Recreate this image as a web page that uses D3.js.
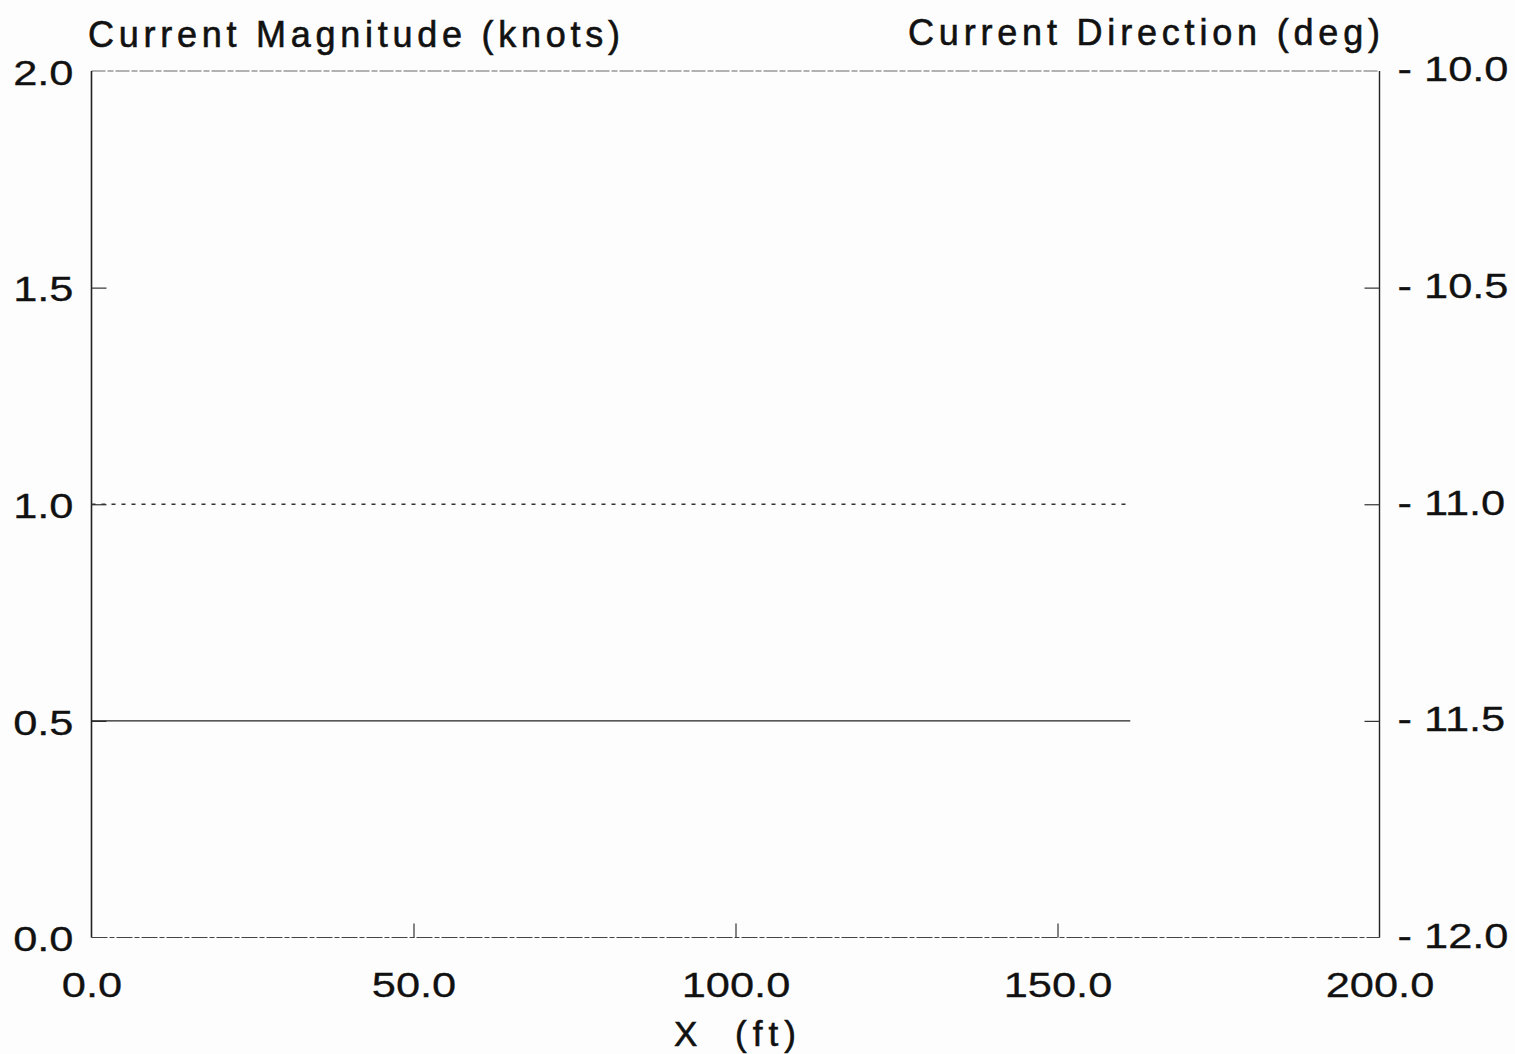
<!DOCTYPE html>
<html>
<head>
<meta charset="utf-8">
<script src="https://cdn.jsdelivr.net/npm/d3@7"></script>
<style>
  html, body { margin: 0; padding: 0; background: #fdfdfd; }
  svg { display: block; }
  text { font-family: "Liberation Sans", Arial, Helvetica, sans-serif; fill: #111; }
</style>
</head>
<body>
<svg id="chart" width="1515" height="1054"></svg>
<script>
// Along-track position (ft) of the current samples
const xValues = [0, 161.3];
// Current magnitude (knots), left axis, solid line
const magnitudeKnots = [0.5, 0.5];
// Current direction (deg), right axis, dotted line
const directionDeg = [-11.0, -11.0];

const xTicks = [0, 50, 100, 150, 200];
const magTicks = [0, 0.5, 1.0, 1.5, 2.0];
const dirTicks = [-12.0, -11.5, -11.0, -10.5, -10.0];

const svg = d3.select("#chart");
const plot = { left: 91.5, right: 1379.5, top: 71, bottom: 937.5 };

const x = d3.scaleLinear().domain([0, 200]).range([plot.left, plot.right]);
const yMag = d3.scaleLinear().domain([0, 2]).range([plot.bottom, plot.top]);
const yDir = d3.scaleLinear().domain([-12, -10]).range([plot.bottom, plot.top]);

const tickFont = 35;
const widen = 1.24;      // horizontal stretch of the plotter lettering

// frame
svg.append("line").attr("x1", plot.left).attr("x2", plot.right).attr("y1", plot.top).attr("y2", plot.top)
  .attr("stroke", "#666").attr("stroke-width", 1).attr("stroke-dasharray", "14 2 6 2");
svg.append("line").attr("x1", plot.left).attr("x2", plot.right).attr("y1", plot.bottom).attr("y2", plot.bottom)
  .attr("stroke", "#444").attr("stroke-width", 1.2).attr("stroke-dasharray", "16 2 5 2");
svg.append("line").attr("x1", plot.left).attr("x2", plot.left).attr("y1", plot.top).attr("y2", plot.bottom)
  .attr("stroke", "#222").attr("stroke-width", 1.6);
svg.append("line").attr("x1", plot.right).attr("x2", plot.right).attr("y1", plot.top).attr("y2", plot.bottom)
  .attr("stroke", "#222").attr("stroke-width", 1.4);

function styleAxis(g) {
  g.select(".domain").remove();
  g.selectAll(".tick line").attr("stroke", "#333").attr("stroke-width", 1.2);
  g.selectAll(".tick text")
    .attr("fill", "#111")
    .attr("stroke", "#111").attr("stroke-width", 0.3)
    .style("font-size", tickFont + "px")
    .each(function () {
      const len = this.getComputedTextLength();
      d3.select(this).attr("textLength", len * widen).attr("lengthAdjust", "spacingAndGlyphs");
    });
}

// bottom axis, ticks pointing into the plot
const xAxis = svg.append("g")
  .attr("transform", `translate(0,${plot.bottom})`)
  .call(d3.axisBottom(x).tickValues(xTicks).tickSizeInner(-14).tickSizeOuter(0).tickPadding(35)
    .tickFormat(d => d.toFixed(1)))
  .call(styleAxis);
xAxis.selectAll(".tick line").filter(d => d === 0 || d === 200).remove();

// left axis
const yAxisL = svg.append("g")
  .attr("transform", `translate(${plot.left},0)`)
  .call(d3.axisLeft(yMag).tickValues(magTicks).tickSizeInner(-15).tickSizeOuter(0).tickPadding(18)
    .tickFormat(d => d.toFixed(1)))
  .call(styleAxis);
yAxisL.selectAll(".tick text").attr("dy", "0.38em");
yAxisL.selectAll(".tick line").filter(d => d === 0 || d === 2).remove();

// right axis
const yAxisR = svg.append("g")
  .attr("transform", `translate(${plot.right},0)`)
  .call(d3.axisRight(yDir).tickValues(dirTicks).tickSizeInner(-15).tickSizeOuter(0).tickPadding(18)
    .tickFormat(d => (d < 0 ? "- " : "") + Math.abs(d).toFixed(1)))
  .call(styleAxis);
yAxisR.selectAll(".tick text").attr("dy", "0.28em").attr("xml:space", "preserve");
yAxisR.selectAll(".tick line").filter(d => d === -12 || d === -10).remove();

// axis titles
svg.append("text").attr("x", 88).attr("y", 47)
  .style("font-size", "36px").attr("stroke", "#111").attr("stroke-width", 0.6)
  .attr("textLength", 532).attr("lengthAdjust", "spacing")
  .text("Current Magnitude (knots)");
svg.append("text").attr("x", 908).attr("y", 45)
  .style("font-size", "36px").attr("stroke", "#111").attr("stroke-width", 0.6)
  .attr("textLength", 472).attr("lengthAdjust", "spacing")
  .text("Current Direction (deg)");
svg.append("text").attr("x", 674).attr("y", 1046)
  .style("font-size", "35px").attr("stroke", "#111").attr("stroke-width", 0.6)
  .attr("xml:space", "preserve")
  .attr("textLength", 122).attr("lengthAdjust", "spacing")
  .text("X  (ft)");

// series
const pts = xValues.map((v, i) => ({ x: v, mag: magnitudeKnots[i], dir: directionDeg[i] }));

svg.append("path").datum(pts)
  .attr("fill", "none").attr("stroke", "#222").attr("stroke-width", 1.4)
  .attr("d", d3.line().x(d => x(d.x)).y(d => yMag(d.mag)));

svg.append("path").datum(pts)
  .attr("fill", "none").attr("stroke", "#333").attr("stroke-width", 1.3)
  .attr("stroke-dasharray", "4 6")
  .attr("d", d3.line().x(d => x(d.x)).y(d => yDir(d.dir)));
</script>
</body>
</html>
